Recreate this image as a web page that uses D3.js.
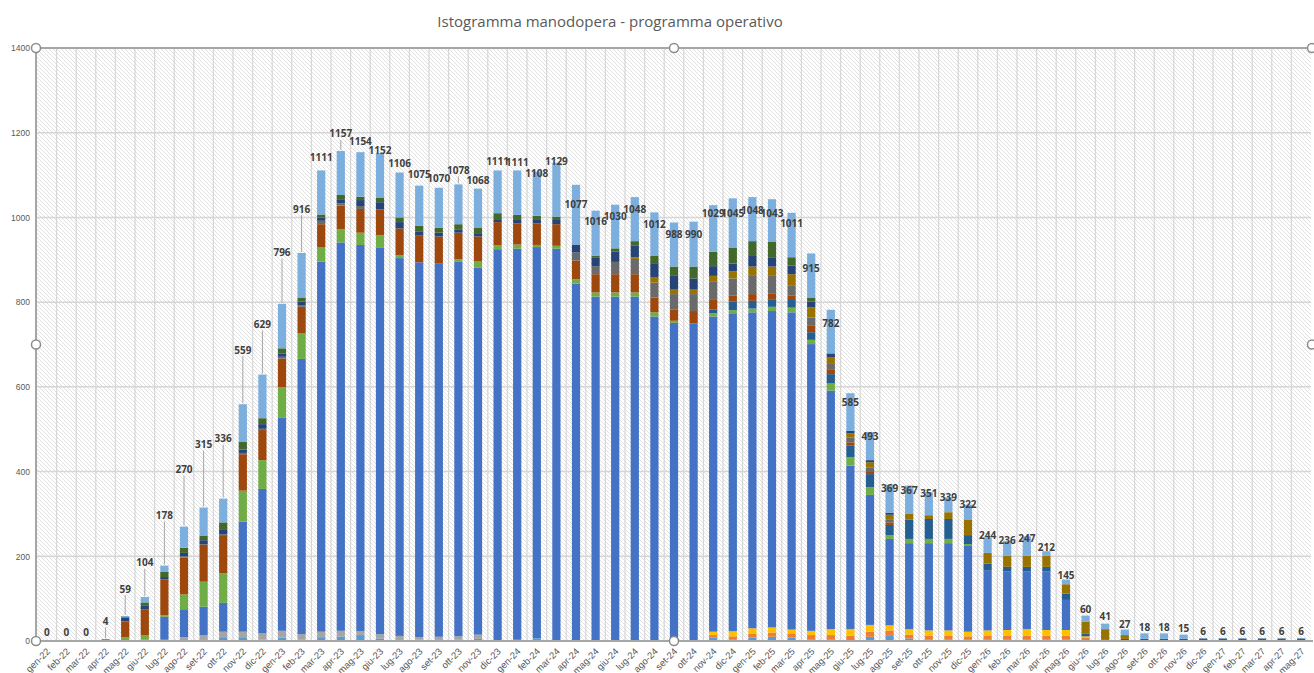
<!DOCTYPE html>
<html>
<head>
<meta charset="utf-8">
<script src="https://cdn.jsdelivr.net/npm/d3@7"></script>
<style>
body { margin: 0; background: #fff; }
svg { display: block; font-family: "Open Sans", sans-serif; }
</style>
</head>
<body>
<svg id="chart"></svg>
<script>
'use strict';

// ---- data ----
var months = ['gen-22','feb-22','mar-22','apr-22','mag-22','giu-22','lug-22','ago-22','set-22','ott-22','nov-22','dic-22',
    'gen-23','feb-23','mar-23','apr-23','mag-23','giu-23','lug-23','ago-23','set-23','ott-23','nov-23','dic-23',
    'gen-24','feb-24','mar-24','apr-24','mag-24','giu-24','lug-24','ago-24','set-24','ott-24','nov-24','dic-24',
    'gen-25','feb-25','mar-25','apr-25','mag-25','giu-25','lug-25','ago-25','set-25','ott-25','nov-25','dic-25',
    'gen-26','feb-26','mar-26','apr-26','mag-26','giu-26','lug-26','ago-26','set-26','ott-26','nov-26','dic-26',
    'gen-27','feb-27','mar-27','apr-27','mag-27'];

var totals = [0,0,0,4,59,104,178,270,315,336, 559,629,796,916,1111,1157,1154,1152,1106,1075,
    1070,1078,1068,1111,1111,1108,1129,1077,1016,1030, 1048,1012,988,990,1029,1045,1048,1043,1011,915,
    782,585,493,369,367,351,339,322,244,236, 247,212,145,60,41,27,18,18,15,6, 6,6,6,6,6];

var yTicks = [0, 200, 400, 600, 800, 1000, 1200, 1400];

// stacked series, bottom to top
var lbBot = [0,0,0,0,0,0,0,0,4,9, 9,3,8,3,9,10,14,6,4,3, 4,3,5,0,3,6,0,0,0,0, 0,0,0,0,8,3,8,10,8,4,
    4,0,10,12,6,3,3,3,3,3, 3,3,3,0,0,0,0,0,0,0, 0,0,0,0,0];
var grey = [0,0,0,0,0,0,3,9,10,13, 13,15,16,13,13,14,9,10,8,6, 6,8,10,0,0,0,0,0,0,0, 0,0,0,0,0,0,0,0,0,0,
    0,0,0,0,0,0,0,0,0,0, 0,0,0,0,0,0,0,0,0,0, 0,0,0,0,0];
var orange = [0,0,0,0,0,0,0,0,0,0, 0,0,0,0,0,0,0,0,0,0, 0,0,0,0,0,0,0,0,0,0, 0,0,0,0,6,8,10,10,10,10,
    10,12,12,13,9,9,9,8,9,9, 9,9,9,7,0,0,0,0,0,0, 0,0,0,0,0];
var yellow = [0,0,0,0,0,0,0,0,0,0, 0,0,0,0,0,0,0,0,0,0, 0,0,0,0,0,0,0,0,0,0, 0,0,0,0,8,12,12,12,9,10,
    14,16,16,12,13,13,13,11,13,14, 16,14,14,4,0,0,0,0,0,0, 0,0,0,0,0];
var blue = [0,0,0,0,0,3,54,66,67,68, 260,341,504,650,874,917,912,912,892,885, 882,884,867,925,923,924,926,844,813,813,
    813,766,751,750,744,749,746,747,749,677, 563,386,307,204,203,206,206,204,141,138, 136,138,71,0,0,0,0,0,0,0, 0,0,0,0,0];
var green = [0,0,0,0,9,11,4,35,59,70, 73,68,71,60,33,31,29,30,7,0, 0,6,14,9,10,5,7,10,10,10, 10,10,5,0,8,9,9,10,11,10,
    17,20,18,9,10,10,10,3,0,0, 0,0,0,0,0,0,0,0,0,0, 0,0,0,0,0];
var teal = [0,0,0,0,0,0,0,0,0,0, 0,0,0,0,0,0,0,0,0,0, 0,0,0,0,0,0,0,0,0,0, 0,0,0,0,9,20,18,18,18,18,
    22,27,31,24,46,47,47,21,17,11, 11,11,15,6,4,5,5,5,5,6, 6,6,6,6,6];
var brown = [0,0,0,4,36,61,83,87,87,90, 86,71,68,63,55,56,56,61,63,63, 63,63,59,55,50,51,51,44,43,43, 43,35,27,29,24,14,16,14,10,15,
    10,8,7,6,0,0,0,0,0,0, 0,0,0,0,0,0,0,0,0,0, 0,0,0,0,0];
var dgrey = [0,0,0,0,1,0,2,3,2,2, 3,3,4,4,8,5,7,0,0,0, 0,0,0,0,0,0,0,19,19,29, 36,35,36,40,41,41,43,41,25,20,
    16,11,8,6,0,0,0,0,0,0, 0,0,0,0,0,0,0,0,0,0, 0,0,0,0,0];
var gold = [0,0,0,0,0,0,0,0,0,0, 0,0,0,0,0,0,0,0,0,0, 0,0,0,0,0,0,0,0,0,0, 4,12,12,12,14,17,22,22,26,24,
    13,10,13,12,13,9,16,37,25,26, 26,26,22,29,24,9,0,0,0,0, 0,0,0,0,0];
var dblue = [0,0,0,0,10,8,5,8,9,12, 8,11,8,8,8,10,14,17,15,9, 9,8,6,7,8,8,10,19,21,24, 27,34,31,25,23,18,25,22,20,13,
    10,6,5,5,0,0,0,0,0,0, 0,0,0,0,0,0,0,0,0,0, 0,0,0,0,0];
var dgreen = [0,0,0,0,0,8,12,12,11,16, 18,14,12,10,7,10,8,11,11,14, 12,12,14,14,12,10,8,0,4,8, 11,17,22,28,34,38,35,36,20,10,
    0,0,0,0,0,0,0,0,0,0, 0,0,0,0,0,0,0,0,0,0, 0,0,0,0,0];
var lbTop = [0,0,0,0,3,13,15,50,66,56, 89,103,105,105,104,104,105,105,106,95, 94,94,93,101,105,104,127,141,106,103,
    104,103,104,106,110,116,104,101,105,104, 103,89,66,66,67,54,35,35,36,35, 46,11,11,14,13,13,13,13,10,0, 0,0,0,0,0];

// ---- layout / style ----
var W = 1314, H = 673;
var plot = { left: 37, right: 1311, top: 48, bottom: 641 };

var colors = {
    lbBot: '#5B9BD5', grey: '#A5A5A5', orange: '#ED7D31', yellow: '#FFC000', blue: '#4472C4',
    green: '#70AD47', teal: '#255E91', brown: '#9E480E', dgrey: '#6a6a6a', gold: '#997300',
    dblue: '#264478', dgreen: '#43682B', lbTop: '#7CAFDD'
};
var seriesData = { lbBot: lbBot, grey: grey, orange: orange, yellow: yellow, blue: blue, green: green,
    teal: teal, brown: brown, dgrey: dgrey, gold: gold, dblue: dblue, dgreen: dgreen, lbTop: lbTop };
var keys = Object.keys(seriesData);

// label centre offset from bar top (px), hand placed like the original
var labelDy = [-9,-9,-9,-18,-27,-34,-50,-57,-63,-60, -54,-50,-51,-44,-13,-17,-11,-3,-9,-11,
    -9,-14,-8,-9,-8,2,-1,20,11,12, 12,12,12,13,8,15,13,14,11,15,
    14,9,4,4,5,1,0,0,-2,-1, 2,-4,-4,-6,-7,-5,-6,-6,-6,-7, -7,-7,-7,-7,-7];

var rows = months.map(function(m, i) {
    var r = { month: m };
    keys.forEach(function(k) { r[k] = seriesData[k][i]; });
    return r;
});

var svg = d3.select('#chart').attr('width', W).attr('height', H);

var xScale = d3.scaleBand().domain(months).range([plot.left, plot.right]).paddingInner(0.58).paddingOuter(0.29);
var yScale = d3.scaleLinear().domain([0, 1400]).range([plot.bottom, plot.top]);

// hatched plot background
var defs = svg.append('defs');
var pat = defs.append('pattern').attr('id', 'hatch')
    .attr('patternUnits', 'userSpaceOnUse').attr('width', 4).attr('height', 4);
pat.append('rect').attr('width', 4).attr('height', 4).attr('fill', '#fff');
pat.append('path').attr('d', 'M-1,-1 L5,5 M-1,3 L1,5 M3,-1 L5,1')
    .attr('stroke', '#dedede').attr('stroke-width', 0.9);

svg.append('rect')
    .attr('x', plot.left).attr('y', plot.top)
    .attr('width', plot.right - plot.left).attr('height', plot.bottom - plot.top)
    .attr('fill', 'url(#hatch)');

// grid
var step = xScale.step();
var vLines = d3.range(1, months.length).map(function(i) { return plot.left + i * step; });
svg.append('g').selectAll('line').data(vLines).enter().append('line')
    .attr('x1', function(d) { return d; }).attr('x2', function(d) { return d; })
    .attr('y1', plot.top).attr('y2', plot.bottom)
    .attr('stroke', '#d6d6d6').attr('stroke-width', 1.2);

svg.append('g').selectAll('line').data(yTicks).enter().append('line')
    .attr('x1', plot.left).attr('x2', plot.right)
    .attr('y1', function(d) { return yScale(d); }).attr('y2', function(d) { return yScale(d); })
    .attr('stroke', '#d6d6d6').attr('stroke-width', 1.5);

// y axis
var yAxis = d3.axisLeft(yScale).tickValues(yTicks).tickFormat(d3.format('d')).tickSize(0).tickPadding(6);
var yG = svg.append('g').attr('transform', 'translate(' + (plot.left - 1) + ',0)').call(yAxis);
yG.select('.domain').remove();
yG.selectAll('text').attr('fill', '#595959').style('font-size', '8.5px');

// bars
var stack = d3.stack().keys(keys)(rows);
svg.append('g').selectAll('g').data(stack).enter().append('g')
    .attr('fill', function(d) { return colors[d.key]; })
    .selectAll('rect').data(function(d) { return d; }).enter().append('rect')
    .attr('x', function(d) { return xScale(d.data.month); })
    .attr('width', xScale.bandwidth())
    .attr('y', function(d) { return yScale(d[1]); })
    .attr('height', function(d) { return yScale(d[0]) - yScale(d[1]); });

// frame (selected chart look)
svg.append('line').attr('x1', plot.left - 1).attr('x2', plot.right + 2)
    .attr('y1', plot.top).attr('y2', plot.top).attr('stroke', '#a6a6a6').attr('stroke-width', 2);
svg.append('line').attr('x1', plot.left - 1).attr('x2', plot.left - 1)
    .attr('y1', plot.top).attr('y2', plot.bottom).attr('stroke', '#a6a6a6').attr('stroke-width', 2);

// x axis
var xAxis = d3.axisBottom(xScale).tickSize(0).tickPadding(0);
var xG = svg.append('g').attr('transform', 'translate(0,' + plot.bottom + ')').call(xAxis);
xG.select('.domain').attr('stroke', '#a6a6a6').attr('stroke-width', 2)
    .attr('d', 'M' + (plot.left - 1) + ',0H' + (plot.right + 2));
xG.selectAll('text')
    .attr('fill', '#595959').style('font-size', '9.5px')
    .attr('text-anchor', 'end').attr('dy', 0).attr('y', 0)
    .attr('transform', 'translate(4,11) rotate(-45)');

// data labels + leader lines
var labels = svg.append('g');
months.forEach(function(m, i) {
    var cx = xScale(m) + xScale.bandwidth() / 2,
        top = yScale(totals[i]),
        cy = top + labelDy[i];
    if (labelDy[i] <= -14) {
        labels.append('line')
            .attr('x1', cx).attr('x2', cx)
            .attr('y1', cy + 6).attr('y2', top - 1)
            .attr('stroke', '#a6a6a6').attr('stroke-width', 1);
    }
    labels.append('text')
        .attr('x', cx).attr('y', cy)
        .attr('dy', '0.35em')
        .attr('text-anchor', 'middle')
        .attr('fill', '#404040')
        .style('font-size', '10px').style('font-weight', 'bold')
        .text(totals[i]);
});

// selection handles
var handles = [[plot.left - 1, plot.top], [(plot.left + plot.right) / 2, plot.top], [plot.right + 1, plot.top],
    [plot.left - 1, (plot.top + plot.bottom) / 2], [plot.right + 1, (plot.top + plot.bottom) / 2],
    [plot.left - 1, plot.bottom], [(plot.left + plot.right) / 2, plot.bottom]];
svg.append('g').selectAll('circle').data(handles).enter().append('circle')
    .attr('cx', function(d) { return d[0]; }).attr('cy', function(d) { return d[1]; })
    .attr('r', 4.5).attr('fill', '#fff').attr('stroke', '#8c8c8c').attr('stroke-width', 1.5);

// title
svg.append('text')
    .attr('x', 610).attr('y', 27)
    .attr('text-anchor', 'middle')
    .attr('fill', '#595959')
    .style('font-size', '15px')
    .text('Istogramma manodopera - programma operativo');
</script>
</body>
</html>
